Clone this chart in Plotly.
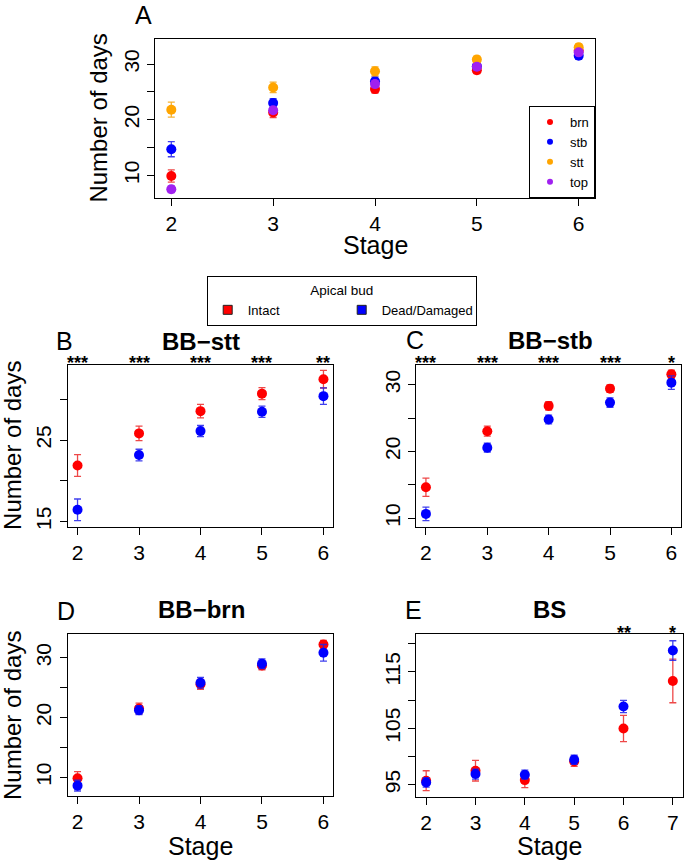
import plotly.graph_objects as go

W, H = 685, 862
FONT = "Liberation Sans, Arial, Helvetica, sans-serif"

# ---------------- data ----------------
stages_bb = [2, 3, 4, 5, 6]
stages_bs = [2, 3, 4, 5, 6, 7]

# Panel A: bud-break stages per category
a_brn = [9.9, 21.3, 25.5, 28.9, 32.4]
a_brn_se = [1.1, 0.9, 0.7, 0.6, 0.5]
a_stb = [14.7, 23.0, 26.9, 29.6, 31.5]
a_stb_se = [1.35, 0.8, 0.8, 0.6, 0.6]
a_stt = [21.8, 25.8, 28.7, 30.8, 33.0]
a_stt_se = [1.35, 0.95, 0.8, 0.6, 0.6]
a_top = [7.5, 21.7, 26.4, 29.5, 32.1]
a_top_se = [0.6, 0.5, 0.6, 0.5, 0.5]

# Panel B: BB-stt
b_intact = [21.87, 25.82, 28.55, 30.7, 32.47]
b_intact_se = [1.33, 0.9, 0.82, 0.73, 1.08]
b_dead = [16.43, 23.16, 26.1, 28.47, 30.39]
b_dead_se = [1.33, 0.71, 0.69, 0.69, 1.02]
b_sig = ["***", "***", "***", "***", "**"]

# Panel C: BB-stb
c_intact = [14.63, 23.03, 26.82, 29.4, 31.54]
c_intact_se = [1.37, 0.75, 0.62, 0.55, 0.62]
c_dead = [10.64, 20.55, 24.78, 27.31, 30.3]
c_dead_se = [1.02, 0.67, 0.67, 0.7, 1.0]
c_sig = ["***", "***", "***", "***", "*"]

# Panel D: BB-brn
d_intact = [9.83, 21.5, 25.56, 28.72, 32.22]
d_intact_se = [1.1, 0.9, 0.83, 0.72, 0.67]
d_dead = [8.6, 21.22, 25.83, 29.0, 30.83]
d_dead_se = [0.9, 0.75, 0.9, 0.8, 1.39]

# Panel E: BS
e_intact = [95.7, 97.48, 95.81, 99.12, 104.97, 113.4]
e_intact_se = [1.77, 1.83, 1.33, 0.88, 2.33, 3.86]
e_dead = [95.4, 96.88, 96.77, 99.42, 108.86, 118.8]
e_dead_se = [0.83, 0.88, 0.8, 0.8, 1.09, 1.74]
e_sig_stages = [6, 7]
e_sig = ["**", "*"]

# tick labels
a_yticks = [10, 15, 20, 25, 30]
a_ytext = ["10", "", "20", "", "30"]
b_yticks = [15, 20, 25, 30]
b_ytext = ["15", "", "25", ""]
cd_yticks = [10, 15, 20, 25, 30]
cd_ytext = ["10", "", "20", "", "30"]
e_yticks = [95, 100, 105, 110, 115, 120]
e_ytext = ["95", "", "105", "", "115", ""]

RED, BLUE, ORANGE, PURPLE = "#FF0000", "#0000FF", "#FFA500", "#A020F0"
ERR = {RED: "rgba(235,40,40,0.85)", BLUE: "rgba(30,30,235,0.85)",
       ORANGE: "rgba(245,170,30,0.9)", PURPLE: "rgba(160,40,230,0.85)"}


def px(x):
    return x / W


def py(y):
    return 1 - y / H


fig = go.Figure()


def add_pts(xs, ys, se, color, xa, ya, name):
    fig.add_trace(go.Scatter(
        x=xs, y=ys, mode="markers", name=name, showlegend=False,
        xaxis=xa, yaxis=ya,
        marker=dict(color=color, size=10, line=dict(width=0)),
        error_y=dict(type="data", array=se, visible=True, color=ERR[color],
                     thickness=1.3, width=3.5),
    ))


# Panel A
for ys, se, col, nm in [(a_brn, a_brn_se, RED, "brn"), (a_stb, a_stb_se, BLUE, "stb"),
                        (a_stt, a_stt_se, ORANGE, "stt"), (a_top, a_top_se, PURPLE, "top")]:
    add_pts(stages_bb, ys, se, col, "x", "y", nm)
    fig.add_trace(go.Scatter(x=[None], y=[None], mode="markers", name=nm,
                             marker=dict(color=col, size=6), legend="legend2",
                             xaxis="x", yaxis="y", showlegend=True))

# Panels B-E
add_pts(stages_bb, b_intact, b_intact_se, RED, "x2", "y2", "Intact")
add_pts(stages_bb, b_dead, b_dead_se, BLUE, "x2", "y2", "Dead/Damaged")
add_pts(stages_bb, c_intact, c_intact_se, RED, "x3", "y3", "Intact")
add_pts(stages_bb, c_dead, c_dead_se, BLUE, "x3", "y3", "Dead/Damaged")
add_pts(stages_bb, d_intact, d_intact_se, RED, "x4", "y4", "Intact")
add_pts(stages_bb, d_dead, d_dead_se, BLUE, "x4", "y4", "Dead/Damaged")
add_pts(stages_bs, e_intact, e_intact_se, RED, "x5", "y5", "Intact")
add_pts(stages_bs, e_dead, e_dead_se, BLUE, "x5", "y5", "Dead/Damaged")

for nm, col in [("Intact", RED), ("Dead/Damaged", BLUE)]:
    fig.add_trace(go.Scatter(x=[None], y=[None], mode="markers", name=nm,
                             marker=dict(color=col, size=9, symbol="square",
                                         line=dict(color="#222222", width=1)),
                             legend="legend", xaxis="x2", yaxis="y2", showlegend=True))

axc = dict(showline=True, linecolor="black", linewidth=1, mirror=True,
           ticks="outside", ticklen=7, tickwidth=1, tickcolor="black",
           showgrid=False, zeroline=False,
           tickfont=dict(size=21, color="black", family=FONT))

# panel boxes in pixels: (left, right, top, bottom)
boxes = {
    "A": (155, 595, 39.3, 198.7),
    "B": (67.7, 333.3, 366, 528.7),
    "C": (416.3, 681, 366.7, 528.7),
    "D": (67.7, 333.3, 636.7, 799),
    "E": (416.3, 682.7, 636.7, 799.3),
}


def dom(b):
    l, r, t, btm = b
    return [px(l), px(r)], [py(btm), py(t)]


axes_cfg = [
    ("", "A", [1.84, 6.16], [5.94, 34.47], stages_bb, a_yticks, a_ytext),
    ("2", "B", [1.84, 6.16], [14.34, 34.25], stages_bb, b_yticks, b_ytext),
    ("3", "C", [1.843, 6.157], [8.7, 32.88], stages_bb, cd_yticks, cd_ytext),
    ("4", "D", [1.84, 6.16], [6.83, 33.9], stages_bb, cd_yticks, cd_ytext),
    ("5", "E", [1.8, 7.2], [92.9, 121.65], stages_bs, e_yticks, e_ytext),
]
lay = {}
for sfx, key, xr, yr, xt, ytv, ytt in axes_cfg:
    xd, yd = dom(boxes[key])
    lay["xaxis" + sfx] = dict(axc, domain=xd, range=xr, tickvals=xt,
                              anchor="y" + sfx)
    lay["yaxis" + sfx] = dict(axc, domain=yd, range=yr, tickvals=ytv,
                              ticktext=ytt, tickangle=-90, anchor="x" + sfx)

ann = []


def txt(x, y, s, size, bold=False, angle=0):
    ann.append(dict(x=px(x), y=py(y), xref="paper", yref="paper", text=s,
                    showarrow=False, xanchor="center", yanchor="middle",
                    textangle=angle,
                    font=dict(size=size, color="black", family=FONT,
                              weight="bold" if bold else "normal")))


# panel letters and titles
txt(143, 15, "A", 25)
txt(64.7, 342.5, "B", 25)
txt(414.5, 341, "C", 25)
txt(65.5, 613, "D", 25)
txt(413.5, 612.5, "E", 25)
txt(201, 342.5, "BB\u2212stt", 24, bold=True)
txt(550, 342, "BB\u2212stb", 24, bold=True)
txt(201, 612, "BB\u2212brn", 24, bold=True)
txt(549.5, 612, "BS", 24, bold=True)

# axis titles
txt(99, 119, "Number of days", 24, angle=-90)
txt(12.5, 447, "Number of days", 24, angle=-90)
txt(12.5, 718, "Number of days", 24, angle=-90)
txt(375, 246, "Stage", 25)
txt(200.5, 849, "Stage", 25)
txt(549.5, 849, "Stage", 25)

# significance stars (placed over stages on the data x axis)
for xs, sig, xa, ystar in [(stages_bb, b_sig, "x2", 364), (stages_bb, c_sig, "x3", 364),
                           (e_sig_stages, e_sig, "x5", 635)]:
    for xv, s in zip(xs, sig):
        ann.append(dict(x=xv, y=py(ystar), xref=xa, yref="paper", text=s,
                        showarrow=False, xanchor="center", yanchor="middle",
                        font=dict(size=18, color="black", family=FONT, weight="bold")))

fig.update_layout(
    width=W, height=H, margin=dict(l=0, r=0, t=0, b=0),
    paper_bgcolor="white", plot_bgcolor="white",
    font=dict(family=FONT, color="black"),
    annotations=ann,
    legend=dict(x=px(206.7), y=py(277.3), xanchor="left", yanchor="top",
                orientation="h", bordercolor="black", borderwidth=1,
                bgcolor="white", font=dict(size=13, family=FONT),
                title=dict(text="Apical bud", side="top center",
                           font=dict(size=13.5, family=FONT)),
                entrywidth=89, entrywidthmode="pixels", itemclick=False),
    legend2=dict(x=px(595), y=py(198.7), xanchor="right", yanchor="bottom",
                 orientation="v", bordercolor="black", borderwidth=1,
                 bgcolor="white", font=dict(size=13, family=FONT),
                 tracegroupgap=0, itemclick=False),
    **lay,
)

fig.write_html("out.html",
               config={"displayModeBar": False},
               post_script="document.body.style.margin='0';"
                           "document.body.style.overflow='hidden';")
